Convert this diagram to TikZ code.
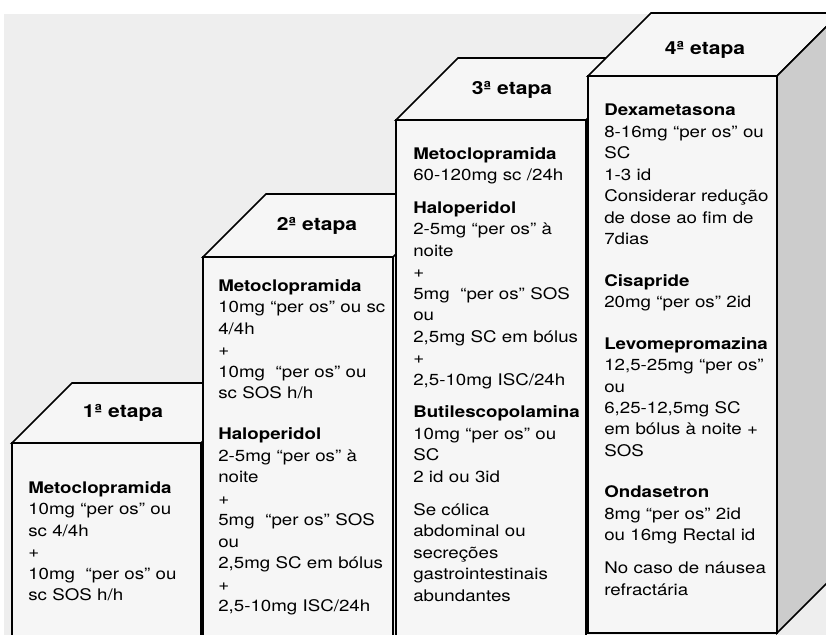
\documentclass[tikz,border=0pt]{standalone}
\usepackage{fontspec}
\setmainfont[FakeStretch=1.17]{TeX Gyre Heros}

\tikzset{
  face/.style={fill=gray!7, draw=black, line width=1.3pt, line join=miter},
  sideface/.style={fill=gray!40, draw=black, line width=1.3pt, line join=miter},
  etapa/.style={inner sep=0pt, font=\fontsize{13.5}{16}\selectfont\bfseries},
  dose/.style={anchor=north west, inner sep=0pt, align=left, text width=135pt,
    font=\fontsize{12}{16.1}\selectfont},
}

\begin{document}
\begin{tikzpicture}[x=0.75pt,y=-0.75pt]
            \useasboundingbox (0,0) rectangle (826,635);
            \clip (0,0) rectangle (826,635);
            \fill[white] (0,0) rectangle (826,635);
            \fill[gray!13] (4,14) rectangle (826,635);

            % 1a etapa
            \filldraw[face] (12,443) -- (72,383) -- (261,383) -- (201,443) -- cycle;
            \filldraw[face] (12,443) rectangle (201,650);
            % 2a etapa
            \filldraw[face] (203,257) -- (266,194) -- (456,194) -- (393,257) -- cycle;
            \filldraw[face] (203,257) rectangle (393,650);
            % 3a etapa
            \filldraw[face] (396,120) -- (458,58) -- (648,58) -- (586,120) -- cycle;
            \filldraw[face] (396,120) rectangle (586,650);
            % 4a etapa
            \filldraw[face] (588,76) -- (651,13) -- (840,13) -- (777,76) -- cycle;
            \filldraw[sideface] (777,76) -- (840,13) -- (840,570) -- (777,633) -- cycle;
            \filldraw[face] (588,76) rectangle (777,633);

            \node[etapa] (e1) at (123,413) {1ª etapa};
            \node[etapa] (e2) at (317,226) {2ª etapa};
            \node[etapa] (e3) at (512,90) {3ª etapa};
            \node[etapa] (e4) at (705,50) {4ª etapa};

            \node[dose, text width=125pt] (d1) at (28,481) {\textbf{Metoclopramida}\\
              \makebox[\linewidth][s]{10mg “per os” ou}\\
              sc 4/4h\\
              +\\
              \makebox[\linewidth][s]{10mg \ “per os” ou}\\
              sc SOS h/h};

            \node[dose] (d2) at (218,279) {\textbf{Metoclopramida}\\
              10mg “per os” ou sc\\
              4/4h\\
              +\\
              10mg \ “per os” ou\\
              sc SOS h/h\\[15pt]
              \textbf{Haloperidol}\\
              2-5mg “per os” à\\
              noite\\
              +\\
              5mg \ “per os” SOS\\
              ou\\
              2,5mg SC em bólus\\
              +\\
              2,5-10mg ISC/24h};

            \node[dose] (d3) at (413,147) {\textbf{Metoclopramida}\\
              60-120mg sc /24h\\[8.5pt]
              \textbf{Haloperidol}\\
              2-5mg “per os” à\\
              noite\\
              +\\
              5mg \ “per os” SOS\\
              ou\\
              2,5mg SC em bólus\\
              +\\
              2,5-10mg ISC/24h\\[8.5pt]
              \textbf{Butilescopolamina}\\
              10mg “per os” ou\\
              SC\\
              2 id ou 3id\\[8.5pt]
              Se cólica\\
              abdominal ou\\
              secreções\\
              gastrointestinais\\
              abundantes};

            \node[dose] (d4) at (604,104) {\textbf{Dexametasona}\\
              8-16mg “per os” ou\\
              SC\\
              1-3 id\\
              Considerar redução\\
              de dose ao fim de\\
              7dias\\[15pt]
              \textbf{Cisapride}\\
              20mg “per os” 2id\\[15pt]
              \textbf{Levomepromazina}\\
              12,5-25mg “per os”\\
              ou\\
              6,25-12,5mg SC\\
              em bólus à noite +\\
              SOS\\[15pt]
              \textbf{Ondasetron}\\
              8mg “per os” 2id\\
              ou 16mg Rectal id\\[8.5pt]
              No caso de náusea\\
              refractária};
        \end{tikzpicture}
\end{document}
